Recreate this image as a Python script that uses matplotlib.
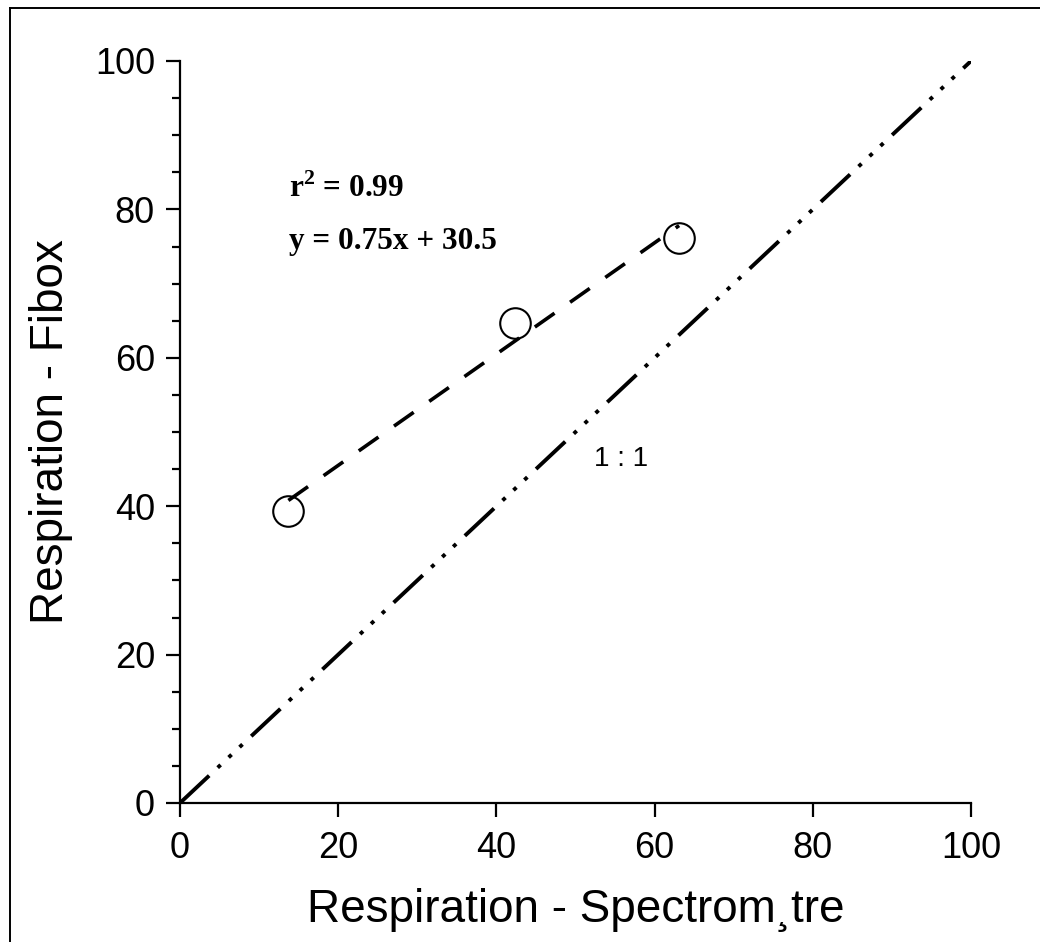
import matplotlib
matplotlib.use("Agg")
import matplotlib.pyplot as plt
from matplotlib.lines import Line2D
import numpy as np

# Data
x_spectro = [13.7, 42.3, 63.1]
y_fibox = [39.4, 64.7, 76.2]
slope = 0.75
intercept = 30.5
r2_text = r"$\mathbf{r}^{\mathbf{2}}$ = 0.99"
eq_text = "y = 0.75x + 30.5"
x_ticks = [0, 20, 40, 60, 80, 100]
y_ticks = [0, 20, 40, 60, 80, 100]
one_to_one = [0, 100]

plt.rcParams['font.family'] = ['Liberation Sans', 'DejaVu Sans']
plt.rcParams['lines.scale_dashes'] = False
plt.rcParams['mathtext.fontset'] = 'custom'
plt.rcParams['mathtext.bf'] = 'Liberation Serif:bold'
plt.rcParams['mathtext.rm'] = 'Liberation Serif:bold'

fig = plt.figure(figsize=(10.40, 9.42), dpi=100)
ax = fig.add_axes([180/1040, 1-803/942, (971-180)/1040, (803-61)/942])

# 1:1 line
ax.plot(one_to_one, one_to_one, color='black', lw=2.8,
        dashes=(28.8, 8.4, 2.9, 7.9, 2.9, 7.9, 2.9, 8.6), zorder=2)

# Points
ax.plot(x_spectro, y_fibox, 'o', ms=22, mfc='none', mec='black', mew=1.5, zorder=3, clip_on=False)

# Regression line
xr = np.array([x_spectro[0], x_spectro[-1]])
ax.plot(xr, slope*xr + intercept, color='black', lw=2.6, dashes=(17.3, 13.7), zorder=4)

ax.text(13.8, 81.7, r2_text, family=['Liberation Serif'], weight='bold', fontsize=22.5,
        ha='left', va='baseline')
ax.text(13.8, 74.6, eq_text, family=['Liberation Serif'], weight='bold', fontsize=22.5,
        ha='left', va='baseline')
ax.text(55.8, 46.3, "1 : 1", fontsize=20, ha='center', va='center')

ax.set_xlim(0, 100)
ax.set_ylim(0, 100)
ax.set_xticks(x_ticks)
ax.set_yticks(y_ticks)
ax.set_yticks(np.arange(0, 101, 5), minor=True)
ax.spines['top'].set_visible(False)
ax.spines['right'].set_visible(False)
for s in ['left', 'bottom']:
    ax.spines[s].set_linewidth(1.6)
ax.tick_params(axis='both', which='major', direction='out', length=10, width=1.6,
               labelsize=26, pad=8)
ax.tick_params(axis='x', which='major', pad=10)
ax.tick_params(axis='y', which='minor', direction='out', length=6, width=1.6)
ax.set_xlabel("Respiration - Spectrom¸tre", fontsize=33, labelpad=16)
ax.set_ylabel("Respiration - Fibox", fontsize=33, labelpad=16)

# figure border lines
fig.add_artist(Line2D([10/1040, 10/1040], [0, 1-8/942], transform=fig.transFigure, color='black', lw=1.4))
fig.add_artist(Line2D([10/1040, 1], [1-8/942, 1-8/942], transform=fig.transFigure, color='black', lw=1.4))

fig.savefig("out.png", dpi=100)
